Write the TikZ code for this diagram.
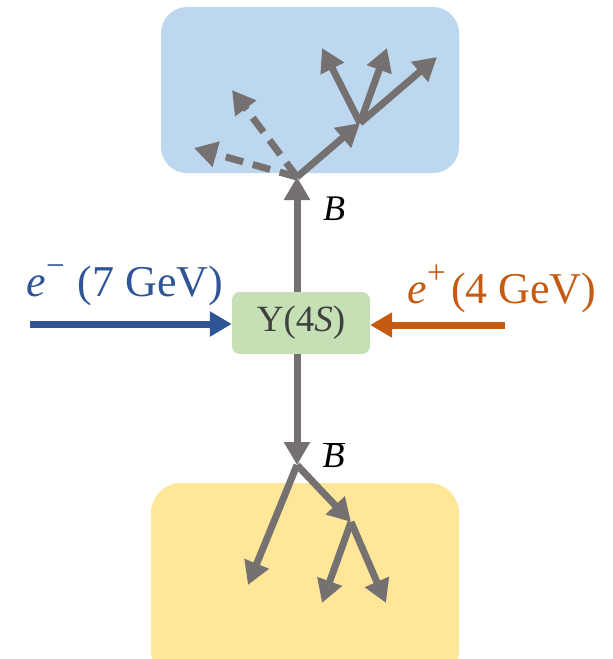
\documentclass[tikz,border=0pt]{standalone}
\usepackage{fontspec}
\setmainfont{Liberation Serif}
\usetikzlibrary{arrows.meta}
\definecolor{boxblue}{HTML}{BDD7EE}
\definecolor{boxyellow}{HTML}{FFE699}
\definecolor{boxgreen}{HTML}{C5E0B4}
\definecolor{trk}{HTML}{767171}
\definecolor{eblue}{HTML}{2F5597}
\definecolor{eorange}{HTML}{C55A11}
\definecolor{txtgray}{HTML}{404040}
\begin{document}
\begin{tikzpicture}[x=1pt,y=-1pt,
  track/.style={draw=trk,line width=7pt,-{Triangle[length=23pt,width=25pt]}},
  dtrack/.style={track,dash pattern=on 18pt off 10pt},
  beam/.style={line width=7pt,-{Triangle[length=22pt,width=24pt]}}]
\useasboundingbox (0,0) rectangle (613,659);
% regions
\fill[boxblue,rounded corners=26pt] (161,7) rectangle (459,173);
\fill[boxyellow,rounded corners=30pt] (151,483) rectangle (459,680);
% central node
\node[fill=boxgreen,rounded corners=8pt,minimum width=138pt,minimum height=62pt,
  text=txtgray,font=\fontsize{37}{37}\selectfont,inner sep=0pt] (ups) at (301,323) {Υ(4\textit{S})};
% vertices
\coordinate (v1) at (297,177);
\coordinate (v2) at (360,123);
\coordinate (w1) at (297,465);
\coordinate (w2) at (351,522);
% endpoints
\coordinate (ebeg) at (30,324);
\coordinate (pbeg) at (505,325);
\coordinate (t1) at (322,48);
\coordinate (t2) at (387,48);
\coordinate (t3) at (437,57);
\coordinate (d1) at (232,90);
\coordinate (d2) at (194,148);
\coordinate (b1) at (248,585);
\coordinate (b2) at (322,603);
\coordinate (b3) at (386,603);
% beams
\draw[beam,eblue] (ebeg) -- (ebeg -| ups.west);
\draw[beam,eorange] (pbeg) -- (pbeg -| ups.east);
% B and Bbar
\draw[track] (ups.north -| v1) -- (v1);
\draw[track] (ups.south -| w1) -- (w1);
% top decays
\draw[track] (v1) -- (v2);
\draw[track] (v2) -- (t1);
\draw[track] (v2) -- (t2);
\draw[track] (v2) -- (t3);
\draw[dtrack] (v1) -- (d1);
\draw[dtrack] (v1) -- (d2);
% bottom decays
\draw[track] (w1) -- (b1);
\draw[track] (w1) -- (w2);
\draw[track] (w2) -- (b2);
\draw[track] (w2) -- (b3);
% labels
\node[font=\fontsize{36}{36}\selectfont\itshape] (lb) at (334,209) {B};
\node[font=\fontsize{36}{36}\selectfont\itshape] (lbb) at (334,455) {$\overline{\hbox{\fontsize{36}{36}\selectfont\itshape B\kern1pt}}$};
\node[text=eblue,font=\fontsize{44}{44}\selectfont] (le) at (125,285)
  {\textit{e}\raisebox{0.45em}{\fontsize{33}{33}\selectfont −}\hspace{0.3em}(7 GeV)};
\node[text=eorange,font=\fontsize{44}{44}\selectfont] (lp) at (502,289)
  {\textit{e}\raisebox{0.45em}{\fontsize{33}{33}\selectfont +}\hspace{0.12em}(4 GeV)};
\end{tikzpicture}
\end{document}
